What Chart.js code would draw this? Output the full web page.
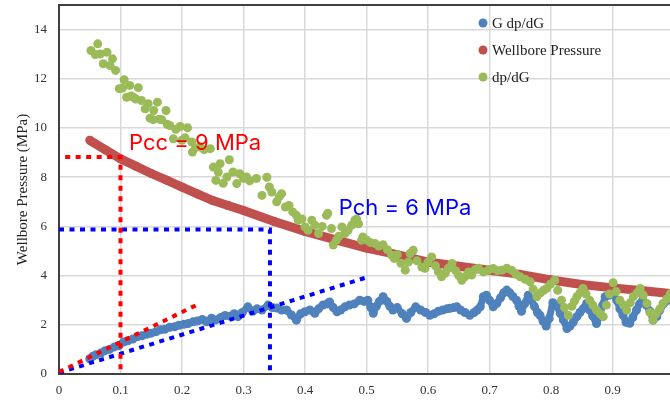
<!DOCTYPE html>
<html>
<head>
<meta charset="utf-8">
<script src="https://cdn.jsdelivr.net/npm/chart.js@4.4.1/dist/chart.umd.min.js"></script>
<style>
  html, body { margin: 0; padding: 0; background: #fff; overflow: hidden; }
  #wrap { width: 670px; height: 401px; overflow: hidden; }
</style>
</head>
<body>
<div id="wrap"><canvas id="chart" width="680" height="401"></canvas></div>
<script>
// G dp/dG
const gdpdgX = [0.050, 0.055, 0.060, 0.068, 0.075, 0.082, 0.090, 0.097, 0.105, 0.112, 0.120, 0.128, 0.135, 0.143, 0.150,
  0.158, 0.165, 0.172, 0.180, 0.188, 0.195, 0.203, 0.210, 0.218, 0.225, 0.233, 0.240, 0.248, 0.255, 0.263,
  0.270, 0.278, 0.285, 0.291, 0.298, 0.307, 0.315, 0.322, 0.330, 0.340, 0.347, 0.354, 0.362, 0.370, 0.378,
  0.386, 0.393, 0.400, 0.408, 0.416, 0.422, 0.429, 0.436, 0.440, 0.446, 0.452, 0.458, 0.465, 0.472, 0.480,
  0.489, 0.496, 0.502, 0.507, 0.511, 0.516, 0.521, 0.527, 0.533, 0.538, 0.543, 0.550, 0.558, 0.565, 0.572,
  0.580, 0.588, 0.596, 0.603, 0.610, 0.617, 0.624, 0.631, 0.636, 0.642, 0.647, 0.653, 0.660, 0.668, 0.675,
  0.680, 0.685, 0.690, 0.695, 0.700, 0.706, 0.712, 0.718, 0.723, 0.728, 0.733, 0.738, 0.744, 0.748, 0.752,
  0.757, 0.763, 0.768, 0.773, 0.778, 0.782, 0.787, 0.792, 0.797, 0.803, 0.809, 0.815, 0.820, 0.826, 0.831,
  0.836, 0.842, 0.847, 0.852, 0.858, 0.863, 0.868, 0.874, 0.879, 0.884, 0.888, 0.894, 0.901, 0.907, 0.912,
  0.917, 0.922, 0.928, 0.933, 0.939, 0.944, 0.949, 0.955, 0.961, 0.966, 0.972, 0.977, 0.983, 0.990];
const gdpdgY = [0.62, 0.72, 0.78, 0.85, 0.95, 1.00, 1.10, 1.15, 1.30, 1.35, 1.42, 1.52, 1.55, 1.62, 1.66,
  1.72, 1.80, 1.82, 1.90, 1.92, 1.98, 2.02, 2.05, 2.12, 2.15, 2.22, 2.12, 2.27, 2.20, 2.30,
  2.38, 2.35, 2.45, 2.33, 2.50, 2.73, 2.55, 2.65, 2.60, 2.80, 2.70, 2.68, 2.60, 2.60, 2.40,
  2.19, 2.45, 2.53, 2.60, 2.47, 2.65, 2.80, 2.85, 2.93, 2.70, 2.53, 2.60, 2.73, 2.80, 2.85,
  3.00, 2.95, 3.00, 2.70, 2.47, 2.75, 2.95, 3.14, 2.95, 2.75, 2.60, 2.70, 2.45, 2.26, 2.50,
  2.73, 2.60, 2.50, 2.39, 2.45, 2.55, 2.60, 2.65, 2.67, 2.70, 2.73, 2.60, 2.50, 2.39, 2.50,
  2.60, 2.73, 3.14, 3.20, 3.00, 2.73, 2.87, 3.10, 3.30, 3.41, 3.30, 3.15, 3.00, 2.75, 2.55,
  2.85, 3.20, 3.00, 2.75, 2.50, 2.39, 2.15, 1.95, 2.25, 2.90, 2.80, 2.47, 2.20, 1.85, 1.95,
  2.10, 2.33, 2.50, 2.65, 2.87, 2.60, 2.35, 2.05, 2.35, 2.80, 3.14, 3.20, 3.27, 3.00, 2.65,
  2.40, 2.10, 2.06, 2.30, 2.60, 2.85, 3.00, 2.80, 2.55, 2.19, 2.33, 2.60, 2.85, 3.00];

// Wellbore Pressure
const pressureX = [0.050, 0.075, 0.100, 0.125, 0.150, 0.175, 0.200, 0.225, 0.250, 0.275, 0.300, 0.350, 0.400, 0.450,
  0.500, 0.550, 0.600, 0.650, 0.700, 0.750, 0.800, 0.850, 0.900, 0.950, 0.994];
const pressureY = [9.50, 9.12, 8.75, 8.45, 8.15, 7.88, 7.60, 7.32, 7.05, 6.85, 6.65, 6.20, 5.80, 5.45,
  5.12, 4.85, 4.55, 4.38, 4.22, 4.05, 3.82, 3.64, 3.50, 3.38, 3.27];

// dp/dG
const dpdgX = [0.052, 0.059, 0.063, 0.067, 0.072, 0.078, 0.083, 0.087, 0.092, 0.098, 0.103, 0.106, 0.110, 0.115, 0.117,
  0.121, 0.125, 0.129, 0.134, 0.140, 0.145, 0.148, 0.153, 0.154, 0.160, 0.163, 0.167, 0.174, 0.176, 0.180,
  0.186, 0.190, 0.197, 0.200, 0.205, 0.209, 0.216, 0.217, 0.222, 0.229, 0.236, 0.246, 0.251, 0.255, 0.259,
  0.262, 0.267, 0.273, 0.277, 0.283, 0.289, 0.294, 0.300, 0.305, 0.310, 0.321, 0.330, 0.338, 0.342, 0.346,
  0.354, 0.358, 0.362, 0.368, 0.374, 0.380, 0.386, 0.389, 0.395, 0.400, 0.405, 0.411, 0.416, 0.422, 0.428,
  0.435, 0.437, 0.443, 0.446, 0.451, 0.455, 0.460, 0.465, 0.470, 0.476, 0.481, 0.484, 0.487, 0.492, 0.494,
  0.500, 0.506, 0.514, 0.520, 0.527, 0.534, 0.541, 0.545, 0.550, 0.556, 0.563, 0.568, 0.571, 0.576, 0.582,
  0.590, 0.595, 0.600, 0.606, 0.612, 0.617, 0.622, 0.628, 0.633, 0.639, 0.645, 0.650, 0.655, 0.660, 0.666,
  0.671, 0.677, 0.682, 0.690, 0.698, 0.706, 0.713, 0.720, 0.728, 0.736, 0.743, 0.750, 0.758, 0.766, 0.771,
  0.777, 0.783, 0.788, 0.793, 0.799, 0.806, 0.811, 0.817, 0.822, 0.828, 0.834, 0.838, 0.842, 0.847, 0.852,
  0.857, 0.863, 0.868, 0.874, 0.880, 0.885, 0.890, 0.895, 0.901, 0.906, 0.912, 0.918, 0.923, 0.929, 0.934,
  0.940, 0.945, 0.950, 0.956, 0.961, 0.966, 0.971, 0.977, 0.982, 0.988, 0.994];
const dpdgY = [13.15, 12.99, 13.42, 13.01, 12.61, 13.08, 12.54, 12.81, 12.34, 11.60, 11.62, 11.96, 11.25, 11.73, 11.30,
  11.25, 11.18, 11.64, 11.12, 10.78, 10.99, 10.40, 10.34, 10.71, 11.05, 10.36, 10.34, 10.71, 10.15, 10.10,
  9.56, 9.95, 10.06, 9.50, 9.60, 10.01, 9.43, 9.02, 9.20, 9.23, 9.12, 9.16, 8.41, 7.87, 8.21,
  8.55, 7.75, 8.01, 8.71, 8.21, 7.74, 8.14, 7.95, 8.01, 7.85, 7.95, 7.26, 8.00, 7.60, 7.40,
  7.00, 7.20, 7.33, 6.79, 6.85, 6.59, 6.45, 6.25, 6.30, 5.98, 5.84, 6.25, 6.05, 5.71, 6.00,
  6.45, 6.53, 5.91, 5.24, 5.44, 5.60, 5.98, 5.71, 5.84, 6.05, 6.25, 6.30, 6.11, 5.44, 5.57,
  5.45, 5.35, 5.30, 5.20, 5.25, 5.05, 4.83, 4.70, 4.85, 4.50, 4.22, 4.55, 4.90, 5.03, 4.60,
  4.35, 4.30, 4.55, 4.76, 4.40, 4.15, 3.95, 4.10, 4.30, 4.49, 4.20, 4.00, 3.81, 3.95, 4.15,
  4.02, 4.25, 4.30, 4.15, 4.22, 4.29, 4.20, 4.22, 4.30, 4.22, 4.05, 3.95, 3.85, 3.75, 3.45,
  3.14, 3.30, 3.40, 3.48, 3.65, 3.81, 3.40, 3.00, 2.70, 2.39, 2.75, 2.95, 3.14, 3.30, 3.48,
  3.25, 3.00, 2.80, 2.60, 2.45, 2.33, 2.80, 3.25, 3.71, 3.35, 3.00, 2.80, 2.60, 2.90, 3.15,
  3.30, 3.48, 3.20, 2.87, 2.50, 2.19, 2.45, 2.65, 2.87, 3.05, 3.27];

// closure pressure guides (Pcc = 9 MPa, Pch = 6 MPa) and tangent lines
const pccGuideX = [0.01, 0.1, 0.1];
const pccGuideY = [8.82, 8.82, 0];
const pchGuideX = [0, 0.343, 0.343];
const pchGuideY = [5.87, 5.87, 0];
const pccTangentX = [0, 0.229];
const pccTangentY = [0.08, 2.87];
const pchTangentX = [0, 0.502];
const pchTangentY = [0.05, 3.94];

const xTicks = [0, 0.1, 0.2, 0.3, 0.4, 0.5, 0.6, 0.7, 0.8, 0.9, 1];
const yTicks = [0, 2, 4, 6, 8, 10, 12, 14];

const notes = [
    { text: 'Pcc = 9 MPa', x: 0.114, y: 9.09, color: '#ff0000' },
    { text: 'Pch = 6 MPa', x: 0.455, y: 6.45, color: '#0000ff' }
];

const toPoints = (xs, ys) => xs.map((x, i) => ({ x: x, y: ys[i] }));

const BLUE = '#4f81bd';
const RED = '#c0504d';
const GREEN = '#9bbb59';
const AXIS = '#404040';
const GRID = '#d9d9d9';

function guide(xs, ys, color) {
    return {
        label: '',
        data: toPoints(xs, ys),
        showLine: true,
        borderColor: color,
        borderWidth: 4,
        borderDash: [5, 5.5],
        borderCapStyle: 'butt',
        pointRadius: 0,
        order: 0,
        isGuide: true
    };
}

// keep the plot area fixed: no extra room for overhanging tick labels
function fixBox(width, height) {
    return axis => {
        if (width) axis.width = width;
        if (height) axis.height = height;
        axis.paddingTop = 0;
        axis.paddingBottom = 0;
        axis.paddingLeft = 0;
        axis.paddingRight = 0;
    };
}

// top frame line, series legend and the two pressure notes
const extras = {
    id: 'extras',
    afterDatasetsDraw(chart) {
        const { ctx, chartArea, scales } = chart;
        ctx.save();
        ctx.strokeStyle = AXIS;
        ctx.lineWidth = 2;
        ctx.beginPath();
        ctx.moveTo(chartArea.left - 1, chartArea.top);
        ctx.lineTo(chartArea.right, chartArea.top);
        ctx.stroke();

        ctx.font = '22px Inter';
        ctx.textAlign = 'left';
        ctx.textBaseline = 'alphabetic';
        notes.forEach(n => {
            ctx.fillStyle = n.color;
            ctx.fillText(n.text, scales.x.getPixelForValue(n.x), scales.y.getPixelForValue(n.y));
        });

        ctx.font = '15px "Liberation Serif"';
        ctx.textBaseline = 'middle';
        chart.data.datasets.filter(d => !d.isGuide).forEach((d, i) => {
            const y = 23 + i * 27;
            ctx.fillStyle = d.backgroundColor;
            ctx.beginPath();
            ctx.arc(483, y, 4.5, 0, Math.PI * 2);
            ctx.fill();
            ctx.fillStyle = '#222';
            ctx.fillText(d.label, 492, y + 1);
        });
        ctx.restore();
    }
};

Chart.defaults.font.family = '"Liberation Serif"';

new Chart(document.getElementById('chart'), {
    type: 'scatter',
    data: {
        datasets: [
            {
                label: 'G dp/dG',
                data: toPoints(gdpdgX, gdpdgY),
                showLine: true,
                borderColor: BLUE,
                backgroundColor: BLUE,
                borderWidth: 7,
                borderJoinStyle: 'round',
                pointRadius: 4.5,
                pointBorderWidth: 0,
                order: 3
            },
            {
                label: 'Wellbore Pressure',
                data: toPoints(pressureX, pressureY),
                showLine: true,
                borderColor: RED,
                backgroundColor: RED,
                borderWidth: 9,
                pointRadius: 4.5,
                pointBorderWidth: 0,
                order: 2
            },
            {
                label: 'dp/dG',
                data: toPoints(dpdgX, dpdgY),
                borderColor: GREEN,
                backgroundColor: GREEN,
                pointRadius: 4.5,
                pointBorderWidth: 0,
                order: 1
            },
            guide(pccGuideX, pccGuideY, '#ff0000'),
            guide(pchGuideX, pchGuideY, '#0000ff'),
            guide(pccTangentX, pccTangentY, '#ff0000'),
            guide(pchTangentX, pchTangentY, '#0000ff')
        ]
    },
    options: {
        responsive: false,
        animation: false,
        devicePixelRatio: 1,
        layout: { padding: { top: 5, right: 6, left: 0, bottom: 0 } },
        plugins: {
            legend: { display: false },
            tooltip: { enabled: false }
        },
        scales: {
            x: {
                type: 'linear',
                min: 0,
                max: 1,
                afterBuildTicks: axis => { axis.ticks = xTicks.map(v => ({ value: v })); },
                afterFit: fixBox(0, 27),
                grid: { color: GRID, lineWidth: 1.5, drawTicks: false },
                border: { color: AXIS, width: 2 },
                ticks: {
                    padding: 9,
                    color: '#333',
                    font: { size: 13 },
                    maxRotation: 0,
                    callback: v => String(v)
                }
            },
            y: {
                type: 'linear',
                min: 0,
                max: 15,
                afterBuildTicks: axis => { axis.ticks = yTicks.map(v => ({ value: v })); },
                afterFit: fixBox(59, 0),
                grid: { color: GRID, lineWidth: 1.5, drawTicks: false },
                border: { color: AXIS, width: 2 },
                ticks: { padding: 12, color: '#333', font: { size: 13 } },
                title: {
                    display: true,
                    text: 'Wellbore Pressure (MPa)',
                    color: '#222',
                    font: { size: 15 },
                    padding: { top: 14, bottom: 0 }
                }
            }
        }
    },
    plugins: [extras]
});
</script>
</body>
</html>
